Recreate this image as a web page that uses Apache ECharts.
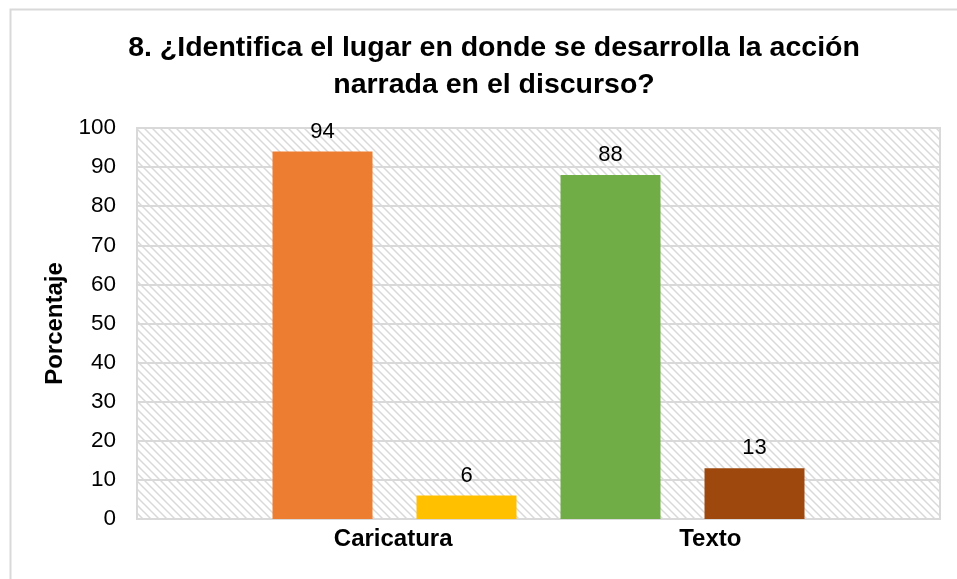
<!DOCTYPE html>
<html>
<head>
<meta charset="utf-8">
<script src="https://cdn.jsdelivr.net/npm/echarts@6/dist/echarts.min.js"></script>
<style>
  html, body { margin: 0; padding: 0; background: #ffffff; }
  #chart { width: 957px; height: 579px; }
</style>
</head>
<body>
<div id="chart"></div>
<script>
// Survey question 8: percentages per response group
const titleText = '8. ¿Identifica el lugar en donde se desarrolla la acción\nnarrada en el discurso?';
const groups = ['Caricatura', 'Texto'];
const seriesNames = ['Caricatura (sí)', 'Caricatura (no)', 'Texto (sí)', 'Texto (no)'];
const values = [94, 6, 88, 13];
const barColors = ['#ED7D31', '#FFC000', '#70AD47', '#9E480E'];
const yTicks = [0, 10, 20, 30, 40, 50, 60, 70, 80, 90, 100];

// Light diagonal hatch used as the plot background
function hatchPattern() {
  const c = document.createElement('canvas');
  c.width = 8; c.height = 8;
  const g = c.getContext('2d');
  g.fillStyle = '#ffffff';
  g.fillRect(0, 0, 8, 8);
  g.strokeStyle = '#d9d9d9';
  g.lineWidth = 1.5;
  g.beginPath();
  g.moveTo(-1, -1); g.lineTo(9, 9);
  g.moveTo(-5, 3); g.lineTo(5, 13);
  g.moveTo(3, -5); g.lineTo(13, 5);
  g.stroke();
  return { image: c, repeat: 'repeat' };
}

const chart = echarts.init(document.getElementById('chart'), null, { renderer: 'canvas' });

const font = 'Liberation Sans, Arial, sans-serif';

const option = {
  animation: false,
  backgroundColor: '#ffffff',
  title: {
    text: titleText,
    left: 489,
    top: 25,
    textAlign: 'center',
    textStyle: {
      fontFamily: font,
      fontSize: 28.5,
      fontWeight: 'bold',
      color: '#000000',
      lineHeight: 37
    }
  },
  graphic: [{
    type: 'rect',
    left: 8, top: 7,
    shape: { width: 1200, height: 1200 },
    style: { fill: 'none', stroke: '#d9d9d9', lineWidth: 2 },
    silent: true,
    z: -10
  }],
  grid: {
    left: 137, right: 17, top: 128, bottom: 60,
    show: true,
    backgroundColor: hatchPattern(),
    borderColor: '#d9d9d9',
    borderWidth: 2
  },
  xAxis: [{
    type: 'category',
    data: [''],
    show: false
  }, {
    // group labels placed along the bottom edge
    type: 'value',
    position: 'bottom',
    min: 0, max: 100,
    axisLine: { show: true, lineStyle: { color: '#d9d9d9', width: 2 } },
    axisTick: { show: false },
    splitLine: { show: false },
    axisLabel: {
      customValues: [31.9, 71.4],
      formatter: (v) => (v < 50 ? groups[0] : groups[1]),
      fontFamily: font,
      fontSize: 24,
      fontWeight: 'bold',
      color: '#000000',
      margin: 8
    }
  }],
  yAxis: {
    type: 'value',
    min: 0, max: 100, interval: 10,
    name: 'Porcentaje',
    nameLocation: 'middle',
    nameGap: 68,
    nameTextStyle: {
      fontFamily: font,
      fontSize: 24,
      fontWeight: 'bold',
      color: '#000000'
    },
    axisLine: { show: false },
    axisTick: { show: false },
    axisLabel: {
      fontFamily: font,
      fontSize: 22.5,
      color: '#000000',
      margin: 21,
      customValues: yTicks
    },
    splitLine: { show: true, lineStyle: { color: '#d9d9d9', width: 2 } }
  },
  series: values.map((v, i) => ({
    name: seriesNames[i],
    type: 'bar',
    xAxisIndex: 0,
    data: [v],
    barWidth: 100,
    barGap: '44%',
    itemStyle: { color: barColors[i] },
    label: {
      show: true,
      position: 'top',
      distance: 9,
      fontFamily: font,
      fontSize: 22,
      color: '#000000'
    }
  }))
};

chart.setOption(option);
</script>
</body>
</html>
